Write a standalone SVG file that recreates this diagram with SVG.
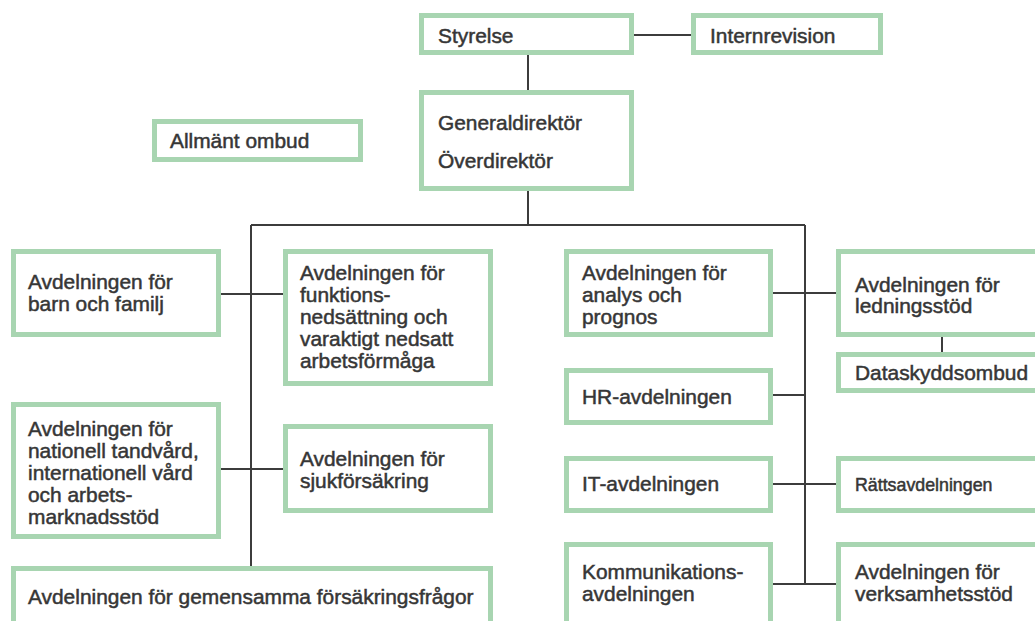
<svg xmlns="http://www.w3.org/2000/svg" width="1035" height="621" viewBox="0 0 1035 621">
<style>
.box{fill:#fff;stroke:#a8d5b1;stroke-width:5}
.t{font-family:"Liberation Sans",Arial,sans-serif;font-size:20.9px;fill:#363636;stroke:#363636;stroke-width:0.5}
.s{font-size:17.8px}
.c{fill:none;stroke:#3c3c3c;stroke-width:2}
</style>
<rect width="1035" height="621" fill="#fff"/>
<g id="connectors">
<path class="c" d="M634 35H691M528 55V90M528 191V225M251 225H805M251 225V566M221 294H283M221 469H283M805 225V584M773 293H836M773 395H805M773 484H836M773 584H836M942 337V352"/>
</g>
<g id="styrelse"><rect class="box" x="421.5" y="15.5" width="210" height="37"/><text class="t" x="438" y="42.5">Styrelse</text></g>
<g id="internrevision"><rect class="box" x="693.5" y="15.5" width="187" height="37"/><text class="t" x="710" y="42.5">Internrevision</text></g>
<g id="gd"><rect class="box" x="421.5" y="92.5" width="210" height="96"/><text class="t" x="438" y="129.5">Generaldirektör</text><text class="t" x="438" y="167.5">Överdirektör</text></g>
<g id="allmant"><rect class="box" x="154.5" y="121.5" width="206" height="38"/><text class="t" x="170" y="147.5">Allmänt ombud</text></g>
<g id="barn"><rect class="box" x="13.5" y="251.5" width="205" height="83"/><text class="t" x="28" y="288.5">Avdelningen för</text><text class="t" x="28" y="310.5">barn och familj</text></g>
<g id="funktion"><rect class="box" x="285.5" y="251.5" width="205" height="132"/><text class="t" x="300" y="279.5">Avdelningen för</text><text class="t" x="300" y="301.5">funktions-</text><text class="t" x="300" y="323.5">nedsättning och</text><text class="t" x="300" y="345.5">varaktigt nedsatt</text><text class="t" x="300" y="367.5">arbetsförmåga</text></g>
<g id="nationell"><rect class="box" x="13.5" y="404.5" width="205" height="132"/><text class="t" x="28" y="435.5">Avdelningen för</text><text class="t" x="28" y="457.5">nationell tandvård,</text><text class="t" x="28" y="479.5">internationell vård</text><text class="t" x="28" y="501.5">och arbets-</text><text class="t" x="28" y="523.5">marknadsstöd</text></g>
<g id="sjuk"><rect class="box" x="285.5" y="426.5" width="205" height="84"/><text class="t" x="300" y="465.5">Avdelningen för</text><text class="t" x="300" y="487.5">sjukförsäkring</text></g>
<g id="gemensamma"><rect class="box" x="13.5" y="568.5" width="477" height="80"/><text class="t" x="28" y="603.5">Avdelningen för gemensamma försäkringsfrågor</text></g>
<g id="analys"><rect class="box" x="566.5" y="251.5" width="204" height="83"/><text class="t" x="582" y="279.5">Avdelningen för</text><text class="t" x="582" y="301.5">analys och</text><text class="t" x="582" y="323.5">prognos</text></g>
<g id="ledning"><rect class="box" x="838.5" y="251.5" width="210" height="83"/><text class="t" x="855" y="291.5">Avdelningen för</text><text class="t" x="855" y="312.5">ledningsstöd</text></g>
<g id="dataskydd"><rect class="box" x="838.5" y="354.5" width="210" height="36"/><text class="t" x="855" y="379.5">Dataskyddsombud</text></g>
<g id="hr"><rect class="box" x="566.5" y="370.5" width="204" height="52"/><text class="t" x="582" y="403.5">HR-avdelningen</text></g>
<g id="it"><rect class="box" x="566.5" y="458.5" width="204" height="52"/><text class="t" x="582" y="491">IT-avdelningen</text></g>
<g id="ratt"><rect class="box" x="838.5" y="458.5" width="210" height="52"/><text class="t s" x="855" y="490.5">Rättsavdelningen</text></g>
<g id="kommunikation"><rect class="box" x="566.5" y="544.5" width="204" height="90"/><text class="t" x="582" y="578.5">Kommunikations-</text><text class="t" x="582" y="600.5">avdelningen</text></g>
<g id="verksamhet"><rect class="box" x="838.5" y="544.5" width="210" height="90"/><text class="t" x="855" y="578.5">Avdelningen för</text><text class="t" x="855" y="600.5">verksamhetsstöd</text></g>
</svg>
